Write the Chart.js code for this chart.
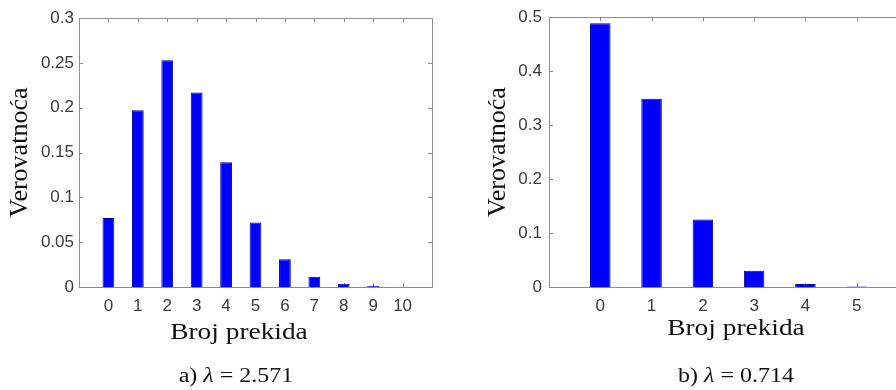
<!DOCTYPE html>
<html>
<head>
<meta charset="utf-8">
<script src="https://cdn.jsdelivr.net/npm/chart.js@4/dist/chart.umd.min.js"></script>
<style>
  html, body { margin: 0; padding: 0; background: #fff; }
  body { width: 896px; height: 390px; overflow: hidden; position: relative; }
  .box { position: absolute; top: 0; height: 390px; }
  .lbl { position: absolute; white-space: nowrap; line-height: 1; color: #111;
         font-family: 'Liberation Serif', 'Times New Roman', serif; }
</style>
</head>
<body>
<div class="box" style="left:0;width:448px"><canvas id="chartA"></canvas></div>
<div class="box" style="left:448px;width:470px"><canvas id="chartB"></canvas></div>

<div class="lbl" style="left:239px;top:319px;font-size:24px;transform:translateX(-50%) scaleX(1.14)">Broj prekida</div>
<div class="lbl" style="left:736px;top:315px;font-size:24px;transform:translateX(-50%) scaleX(1.14)">Broj prekida</div>
<div class="lbl" style="left:236px;top:365px;font-size:20px;transform:translateX(-50%) scaleX(1.2)">a) <i>λ</i> = 2.571</div>
<div class="lbl" style="left:736px;top:365px;font-size:20px;transform:translateX(-50%) scaleX(1.2)">b) <i>λ</i> = 0.714</div>

<script>
// panel a) lambda = 2.571
const breaksA = [0, 1, 2, 3, 4, 5, 6, 7, 8, 9, 10];
const probA = [0.077, 0.197, 0.253, 0.217, 0.139, 0.072, 0.031, 0.0115, 0.0037, 0.001, 0.0003];
const yTicksA = [0, 0.05, 0.1, 0.15, 0.2, 0.25, 0.3];

// panel b) lambda = 0.714
const breaksB = [0, 1, 2, 3, 4, 5];
const probB = [0.489, 0.349, 0.125, 0.03, 0.0055, 0.0008];
const yTicksB = [0, 0.1, 0.2, 0.3, 0.4, 0.5];

const tickFont = { family: "'Liberation Sans', Arial, sans-serif", size: 17 };
const axisGray = '#8c8c8c';

// matlab style box with inward tick marks
const boxPlugin = {
  id: 'matlabBox',
  beforeDatasetsDraw(chart) {
    const { ctx, chartArea: a, scales } = chart;
    const len = 4;
    ctx.save();
    ctx.strokeStyle = axisGray;
    ctx.lineWidth = 1;
    ctx.beginPath();
    scales.x.ticks.forEach(t => {
      if (t.value < scales.x.min + 0.5 || t.value > scales.x.max - 0.5) return;
      const px = Math.round(scales.x.getPixelForValue(t.value)) + 0.5;
      ctx.moveTo(px, a.top); ctx.lineTo(px, a.top + len);
      ctx.moveTo(px, a.bottom); ctx.lineTo(px, a.bottom - len);
    });
    scales.y.ticks.forEach(t => {
      const py = Math.round(scales.y.getPixelForValue(t.value)) + 0.5;
      ctx.moveTo(a.left, py); ctx.lineTo(a.left + len, py);
      ctx.moveTo(a.right, py); ctx.lineTo(a.right - len, py);
    });
    ctx.stroke();
    ctx.strokeRect(Math.round(a.left) + 0.5, Math.round(a.top) + 0.5,
                   Math.round(a.right - a.left), Math.round(a.bottom - a.top));
    ctx.restore();
  }
};

function makeChart(id, xs, ys, yTicks, opt) {
  const yStep = yTicks[1] - yTicks[0];
  return new Chart(document.getElementById(id), {
    type: 'bar',
    data: {
      datasets: [{
        data: xs.map((x, i) => ({ x: x, y: ys[i] })),
        backgroundColor: '#0000ff',
        borderColor: '#0000a0',
        borderWidth: 1,
        barPercentage: 0.4,
        categoryPercentage: 1
      }]
    },
    options: {
      responsive: true,
      maintainAspectRatio: false,
      animation: false,
      layout: { padding: { left: 0, top: opt.top, right: opt.right, bottom: 0 } },
      plugins: { legend: { display: false }, tooltip: { enabled: false } },
      scales: {
        x: {
          type: 'linear',
          offset: false,
          min: xs[0] - 1,
          max: xs[xs.length - 1] + 1,
          grid: { display: false, drawTicks: false, offset: false },
          border: { display: false },
          ticks: {
            stepSize: 1,
            padding: 9,
            font: tickFont,
            color: '#3a3a3a',
            maxRotation: 0,
            autoSkip: false,
            callback: v => (xs.includes(v) ? String(v) : null)
          },
          afterFit: s => { s.height = 390 - opt.bottom; }
        },
        y: {
          min: yTicks[0],
          max: yTicks[yTicks.length - 1],
          grid: { display: false, drawTicks: false },
          border: { display: false },
          ticks: {
            stepSize: yStep,
            padding: opt.yPad,
            font: tickFont,
            color: '#3a3a3a',
            callback: v => String(+v.toFixed(2))
          },
          title: {
            display: true,
            text: 'Verovatnoća',
            color: '#111',
            font: { family: "'Liberation Serif', 'Times New Roman', serif", size: 26 },
            padding: { top: opt.titlePad, bottom: 0 }
          },
          afterFit: s => { s.width = opt.left; }
        }
      }
    },
    plugins: [boxPlugin]
  });
}

makeChart('chartA', breaksA, probA, yTicksA, { left: 79, top: 18, right: 16, bottom: 287, yPad: 5, titlePad: 5 });
makeChart('chartB', breaksB, probB, yTicksB, { left: 101, top: 17, right: 10, bottom: 287, yPad: 7, titlePad: 35 });
</script>
</body>
</html>
